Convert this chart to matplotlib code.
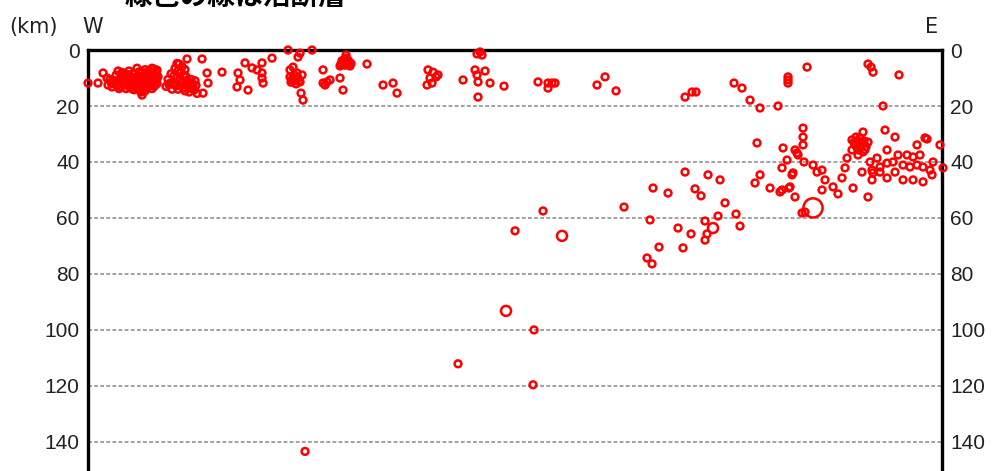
import matplotlib
matplotlib.use("Agg")
import matplotlib.pyplot as plt

# hypocentres along the W-E section: distance from west end (km), depth (km)
dist_west = [
    0.0, 1.0, 1.5, 1.9, 2.4, 2.2, 2.5, 2.8, 3.0, 3.2, 3.4, 3.5, 3.7, 3.9, 4.0,
    4.1, 4.2, 4.4, 4.5, 4.6, 4.8, 4.9, 5.0, 5.1, 5.2, 5.3, 5.4, 5.5, 5.6, 5.7,
    5.8, 5.9, 6.0, 6.1, 6.2, 6.3, 6.4, 6.5, 6.6, 6.7, 6.8, 6.9, 7.0, 5.4, 5.3,
    3.0, 4.5, 5.9, 2.0, 2.7,
    2.6, 2.9, 3.3, 3.6, 3.8, 4.0, 4.3, 4.7, 4.9, 5.1, 5.2, 5.5, 5.7, 5.8, 6.0,
    6.2, 6.4, 6.5, 6.7, 6.9, 6.9, 5.0, 4.3, 3.6, 6.2, 4.6, 5.7, 3.1, 2.3, 6.6,
    7.8, 8.0, 8.3, 8.5, 8.7, 8.9, 9.0, 9.1, 9.3, 9.4, 9.5, 9.7, 9.8, 10.0,
    10.1, 10.3, 10.5, 10.7, 10.9, 9.9, 9.2, 8.9, 10.6,
    8.2, 8.6, 8.8, 9.0, 9.2, 9.6, 9.7, 9.9, 10.2, 10.4, 8.4, 9.4, 10.8, 9.6, 8.1,
    11.5, 11.4, 11.9, 12.0,
    13.4, 15.0, 15.2, 14.9, 16.0, 15.7, 16.4, 17.4, 17.4, 17.5, 17.4, 18.4, 16.9,
]
depth_west = [
    11.8, 11.8, 8.2, 10.0, 13.2, 10.5, 12.0, 9.0, 11.0, 13.0, 8.0, 10.0, 12.5, 9.5, 11.5,
    7.5, 13.5, 10.0, 8.5, 12.0, 11.0, 6.5, 9.5, 13.0, 14.5, 10.5, 8.0, 12.0, 11.0, 7.0,
    9.5, 13.5, 10.0, 12.5, 8.0, 11.0, 6.5, 9.0, 13.0, 10.5, 7.5, 12.0, 9.5, 16.1, 15.0,
    7.5, 14.0, 11.8, 12.5, 11.0,
    10.8, 12.6, 9.2, 11.4, 13.8, 8.8, 12.2, 9.8, 13.4, 7.8, 11.8, 9.2, 13.2, 10.6, 7.6,
    11.6, 13.8, 8.4, 12.6, 10.2, 7.2, 11.2, 10.6, 8.6, 9.6, 14.2, 14.6, 13.8, 11.6, 6.8,
    13.0, 10.5, 8.5, 12.0, 6.5, 10.0, 14.0, 5.0, 8.0, 11.5, 13.5, 7.0, 9.5, 12.5,
    15.0, 10.5, 13.0, 11.0, 15.5, 3.2, 12.8, 4.8, 14.3,
    11.8, 9.2, 12.8, 7.4, 10.8, 12.2, 14.6, 10.8, 13.6, 12.0, 14.0, 6.0, 12.6, 9.0, 12.4,
    15.4, 3.2, 8.2, 11.8,
    7.9, 8.2, 10.7, 13.2, 14.3, 4.6, 6.4, 4.6, 8.2, 11.8, 10.0, 2.9, 7.1,
]

dist_central = [
    20.0, 21.2, 21.0, 22.4, 20.2, 20.6, 21.0, 20.4, 21.2, 20.8, 20.2, 21.4, 20.5,
    20.5, 20.9, 21.1, 20.3, 20.7,
    21.3, 21.5, 23.5, 23.5, 23.9, 24.2, 23.7, 25.2, 25.5,
    25.5, 25.8, 26.1, 25.7, 26.2, 25.2, 25.8, 25.4, 26.0, 25.9, 25.6, 26.3, 25.3,
    27.9, 29.5, 30.5, 30.9,
    34.0, 34.5, 34.8, 34.2, 35.0, 34.4, 33.9, 37.5,
    38.9, 39.4, 39.2, 38.7, 39.7, 38.9, 39.0, 40.2, 41.6, 39.0,
    45.0, 46.0, 46.4, 46.7, 46.0, 50.9, 51.7, 52.8,
]
depth_central = [
    0.0, 1.1, 2.5, 0.0, 7.1, 8.9, 10.0, 10.7, 11.4, 12.1, 9.6, 8.9, 6.1,
    9.8, 8.2, 11.2, 11.5, 11.0,
    15.4, 17.9, 7.1, 11.8, 11.4, 10.7, 12.5, 10.0, 14.3,
    4.3, 2.9, 4.3, 5.4, 5.7, 5.7, 1.8, 3.8, 3.6, 5.0, 4.8, 4.8, 5.0,
    5.0, 12.5, 11.8, 15.4,
    7.1, 7.9, 9.6, 10.0, 8.9, 11.8, 12.5, 10.7,
    1.4, 1.8, 0.7, 7.1, 7.5, 8.9, 11.4, 11.8, 12.9, 16.8,
    11.4, 11.8, 11.8, 11.8, 13.6, 12.5, 9.6, 14.6,
]

dist_east_shallow = [
    59.7, 60.4, 60.8, 64.6, 65.4, 66.2, 67.2, 69.0, 70.0, 70.0, 70.0, 71.9,
    78.0, 78.3, 78.5, 81.1, 79.5,
]
depth_east_shallow = [
    16.8, 15.0, 15.0, 11.8, 13.6, 17.9, 20.7, 20.0, 9.6, 10.7, 11.8, 6.1,
    5.0, 6.1, 7.9, 8.9, 20.0,
]

dist_east_deep = [
    66.9, 66.7, 67.2, 68.2, 69.4, 70.5, 70.1, 69.2,
    69.5, 69.9, 70.7, 70.9, 71.5, 71.5, 71.5, 70.4, 70.2, 70.7, 69.4, 71.6, 71.0,
    72.5, 72.9, 73.4, 73.7, 73.4, 74.5, 75.0, 75.4, 75.7, 75.9, 76.5, 77.4, 78.2,
    77.5, 78.0, 79.7, 80.7, 79.9, 83.7, 83.9, 82.9, 85.2, 85.5, 84.5,
    81.9, 82.5, 83.2, 81.5, 82.2, 82.9, 83.5, 84.2, 81.5, 82.5, 83.5, 84.4,
    78.9, 79.2, 79.9, 80.5, 81.0, 78.5, 79.2, 79.9, 80.7, 78.4, 78.4,
    76.4, 76.8, 77.2, 77.6, 76.7, 77.2, 77.8, 77.0, 77.5, 76.4, 78.0, 77.0,
    76.6, 77.4, 77.1, 76.9, 77.7,
]
depth_east_deep = [
    33.2, 47.5, 44.6, 49.3, 42.1, 43.9, 49.3, 50.7,
    35.0, 39.3, 35.7, 36.8, 27.9, 31.1, 33.9, 44.6, 48.9, 52.5, 50.0, 40.0, 37.5,
    41.1, 43.6, 42.9, 46.4, 50.0, 48.9, 51.4, 45.7, 42.1, 38.6, 49.3, 43.6, 40.0,
    29.3, 52.5, 28.6, 31.1, 35.7, 31.4, 31.8, 33.9, 33.9, 42.1, 40.0,
    37.5, 38.2, 37.5, 41.1, 41.8, 41.1, 41.8, 42.9, 46.4, 46.4, 47.1, 44.6,
    38.6, 41.8, 40.4, 40.0, 37.5, 43.9, 43.6, 45.7, 43.6, 46.4, 42.9,
    32.1, 31.1, 31.4, 32.5, 33.9, 34.3, 34.6, 35.7, 36.4, 35.7, 32.9, 37.5,
    33.0, 33.4, 32.8, 34.8, 35.6,
]

dist_slab = [
    59.7, 62.0, 63.2, 56.5, 58.0, 60.7, 61.3, 63.7, 53.6, 56.2, 59.0, 60.3,
    61.7, 63.0, 64.8, 65.2, 61.9, 61.7, 57.1, 59.5, 55.9, 56.4, 71.7, 71.4,
    42.7, 45.5, 44.6, 37.0, 44.5, 21.7,
]
depth_slab = [
    43.6, 44.6, 46.4, 49.3, 51.1, 49.6, 52.1, 54.6, 56.1, 60.7, 63.6, 65.7,
    61.1, 59.3, 58.6, 62.9, 65.7, 67.9, 70.4, 70.7, 74.3, 76.4, 57.9, 58.2,
    64.6, 57.5, 100.0, 112.1, 119.6, 143.4,
]

# larger events
dist_big = [41.8, 47.4, 62.5]
depth_big = [93.2, 66.4, 63.6]
dist_largest = [72.5]
depth_largest = [56.4]

depth_ticks = [0, 20, 40, 60, 80, 100, 120, 140]

plt.rcParams["font.family"] = ["Liberation Sans", "DejaVu Sans"]

fig = plt.figure(figsize=(9.98, 4.71), dpi=100)
ax = fig.add_axes([0.0882, 0.0, 0.8557, 0.8938])

ring = dict(facecolors="none", edgecolors="#ff0000", linewidths=1.8,
            zorder=3, clip_on=False)
xs = dist_west + dist_central + dist_east_shallow + dist_east_deep + dist_slab
ys = depth_west + depth_central + depth_east_shallow + depth_east_deep + depth_slab
ax.scatter(xs, ys, s=24, **ring)
ax.scatter(dist_big, depth_big, s=52, **ring)
ax.scatter(dist_largest, depth_largest, s=190, **ring)

ax.set_xlim(0, 85.4)
ax.set_ylim(150.4, 0)
ax.set_xticks([])
ax.set_yticks(depth_ticks)
ax.set_yticklabels([str(t) for t in depth_ticks])
ax.tick_params(axis="y", length=0, pad=6, labelsize=15, labelcolor="#222222",
               right=True, labelright=True)
for t in depth_ticks[1:]:
    ax.axhline(t, color="#888888", lw=1.1, ls=(0, (2.5, 1.5)), zorder=1)

for side in ("top", "left", "right"):
    ax.spines[side].set_linewidth(2.4)
    ax.spines[side].set_color("black")
ax.spines["bottom"].set_visible(False)

fig.text(0.009, 0.942, "(km)", fontsize=15, color="#222222", va="center",
         family="DejaVu Sans")
fig.text(0.082, 0.942, "W", fontsize=15, color="#222222", va="center",
         family="DejaVu Sans")
fig.text(0.927, 0.942, "E", fontsize=15, color="#222222", va="center",
         family="DejaVu Sans")
fig.text(0.125, 0.975, "緑色の線は活断層", fontsize=20, fontweight="bold",
         family=["Noto Sans CJK JP", "DejaVu Sans"], va="bottom", ha="left")

fig.savefig("out.png", dpi=100)
